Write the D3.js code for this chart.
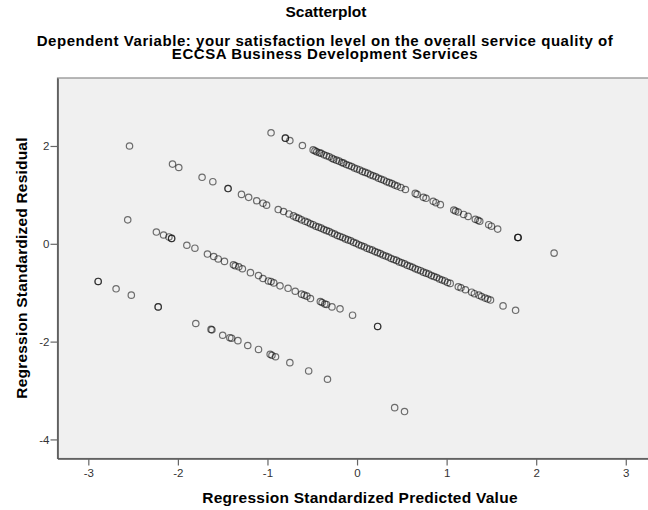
<!DOCTYPE html>
<html>
<head>
<meta charset="utf-8">
<script src="https://cdn.jsdelivr.net/npm/d3@7"></script>
<style>
  body { margin: 0; background: #fff; }
  svg { display: block; font-family: "Liberation Sans", Arial, sans-serif; }
  .tick text { fill: #333; font-size: 11.5px; }
  .tick line { stroke: #666; }
</style>
</head>
<body>
<svg id="chart" width="648" height="510"></svg>
<script>
// === DATA ===
// [predicted, residual] pairs, one array per diagonal band
const band1 = [
  [-0.96, 2.27], [-0.80, 2.16], [-0.80, 2.16], [-0.75, 2.11], [-0.61, 2.01], [-0.49, 1.92],
  [-0.47, 1.90], [-0.45, 1.88], [-0.42, 1.86], [-0.40, 1.85], [-0.37, 1.82], [-0.34, 1.80],
  [-0.31, 1.78], [-0.28, 1.75], [-0.26, 1.73], [-0.23, 1.71], [-0.20, 1.69], [-0.17, 1.66],
  [-0.15, 1.65], [-0.12, 1.62], [-0.09, 1.60], [-0.06, 1.58], [-0.03, 1.55], [0.00, 1.53],
  [0.03, 1.51], [0.06, 1.48], [0.09, 1.46], [0.12, 1.44], [0.15, 1.41], [0.18, 1.39],
  [0.21, 1.37], [0.24, 1.34], [0.27, 1.32], [0.30, 1.30], [0.33, 1.27], [0.36, 1.25],
  [0.39, 1.23], [0.42, 1.20], [0.45, 1.18], [0.49, 1.15], [0.54, 1.11], [0.65, 1.03],
  [0.67, 1.01], [0.74, 0.95], [0.77, 0.93], [0.85, 0.87], [0.88, 0.84], [0.93, 0.80],
  [1.08, 0.69], [1.10, 0.67], [1.13, 0.65], [1.19, 0.60], [1.24, 0.56], [1.32, 0.50],
  [1.35, 0.48], [1.37, 0.46], [1.47, 0.39], [1.50, 0.36], [1.57, 0.30], [1.795, 0.13],
  [1.795, 0.13], [1.80, 0.13], [2.20, -0.19]
];
const band2 = [
  [-2.54, 2.00], [-2.06, 1.63], [-1.99, 1.56], [-1.73, 1.36], [-1.61, 1.27], [-1.44, 1.13],
  [-1.44, 1.13], [-1.29, 1.01], [-1.21, 0.95], [-1.12, 0.88], [-1.05, 0.83], [-1.01, 0.79],
  [-0.88, 0.70], [-0.82, 0.66], [-0.76, 0.61], [-0.71, 0.57], [-0.68, 0.54], [-0.65, 0.52],
  [-0.62, 0.49], [-0.58, 0.46], [-0.55, 0.44], [-0.52, 0.41], [-0.49, 0.39], [-0.46, 0.36],
  [-0.43, 0.34], [-0.40, 0.32], [-0.37, 0.29], [-0.34, 0.27], [-0.31, 0.25], [-0.28, 0.22],
  [-0.25, 0.20], [-0.22, 0.17], [-0.19, 0.15], [-0.16, 0.13], [-0.13, 0.10], [-0.10, 0.08],
  [-0.07, 0.06], [-0.04, 0.03], [-0.01, 0.01], [0.02, -0.02], [0.05, -0.04], [0.08, -0.06],
  [0.11, -0.09], [0.14, -0.11], [0.17, -0.13], [0.20, -0.16], [0.23, -0.18], [0.26, -0.20],
  [0.29, -0.23], [0.32, -0.25], [0.35, -0.27], [0.38, -0.30], [0.41, -0.32], [0.44, -0.34],
  [0.47, -0.37], [0.50, -0.39], [0.53, -0.41], [0.56, -0.44], [0.59, -0.46], [0.62, -0.48],
  [0.65, -0.51], [0.68, -0.53], [0.71, -0.55], [0.74, -0.58], [0.77, -0.60], [0.80, -0.62],
  [0.83, -0.65], [0.86, -0.67], [0.89, -0.69], [0.92, -0.72], [0.95, -0.74], [0.98, -0.76],
  [1.01, -0.79], [1.04, -0.81], [1.13, -0.88], [1.16, -0.90], [1.21, -0.94], [1.28, -0.99],
  [1.31, -1.02], [1.36, -1.05], [1.39, -1.08], [1.43, -1.11], [1.46, -1.13], [1.49, -1.15],
  [1.63, -1.27], [1.77, -1.36]
];
const band3 = [
  [-2.56, 0.49], [-2.24, 0.24], [-2.16, 0.18], [-2.10, 0.14], [-2.07, 0.11], [-2.07, 0.11],
  [-1.90, -0.03], [-1.81, -0.09], [-1.67, -0.21], [-1.60, -0.26], [-1.55, -0.31], [-1.48, -0.36],
  [-1.38, -0.43], [-1.36, -0.45], [-1.32, -0.47], [-1.28, -0.51], [-1.19, -0.59], [-1.10, -0.65],
  [-1.05, -0.71], [-0.99, -0.76], [-0.96, -0.77], [-0.93, -0.80], [-0.86, -0.86], [-0.77, -0.91],
  [-0.69, -0.97], [-0.62, -1.03], [-0.59, -1.05], [-0.56, -1.07], [-0.52, -1.12], [-0.41, -1.18],
  [-0.39, -1.20], [-0.36, -1.23], [-0.34, -1.24], [-0.28, -1.29], [-0.19, -1.33], [-0.05, -1.46],
  [0.23, -1.69], [0.23, -1.69]
];
const band4 = [
  [-2.89, -0.77], [-2.89, -0.77], [-2.69, -0.92], [-2.52, -1.05], [-2.22, -1.29], [-2.22, -1.29],
  [-1.80, -1.63], [-1.63, -1.75], [-1.62, -1.76], [-1.50, -1.87], [-1.42, -1.92], [-1.40, -1.93],
  [-1.33, -1.98], [-1.22, -2.08], [-1.10, -2.16], [-0.97, -2.26], [-0.95, -2.28], [-0.91, -2.31],
  [-0.75, -2.43], [-0.54, -2.60], [-0.33, -2.77], [0.42, -3.35], [0.53, -3.43]
];

const xTicks = [-3, -2, -1, 0, 1, 2, 3];
const yTicks = [-4, -2, 0, 2];

const titleText = "Scatterplot";
const subtitleLines = [
  "Dependent Variable: your satisfaction level on the overall service quality of",
  "ECCSA Business Development Services"
];
const xLabel = "Regression Standardized Predicted Value";
const yLabel = "Regression Standardized Residual";

// === LAYOUT ===
const plot = { left: 57.5, top: 78, right: 662.5, bottom: 458.5 };

const svg = d3.select("#chart");

const x = d3.scaleLinear().domain([-3.344, 3.41]).range([plot.left, plot.right]);
const y = d3.scaleLinear().domain([-4.39, 3.39]).range([plot.bottom, plot.top]);

// background panel
svg.append("rect")
  .attr("x", plot.left).attr("y", plot.top)
  .attr("width", plot.right - plot.left).attr("height", plot.bottom - plot.top)
  .attr("fill", "#f0f0f0")
  .attr("stroke", "#8a8a8a").attr("stroke-width", 1.2);

// === AXES ===
const xAxis = svg.append("g")
  .attr("transform", `translate(0,${plot.bottom})`)
  .call(d3.axisBottom(x).tickValues(xTicks).tickSize(7).tickSizeOuter(0).tickPadding(3).tickFormat(d3.format("d")));
const yAxis = svg.append("g")
  .attr("transform", `translate(${plot.left},0)`)
  .call(d3.axisLeft(y).tickValues(yTicks).tickSize(7).tickSizeOuter(0).tickPadding(1).tickFormat(d3.format("d")));

[xAxis, yAxis].forEach(g => {
  g.select(".domain").attr("stroke", "#555").attr("stroke-width", 1.6);
  g.selectAll(".tick line").attr("stroke-width", 1.2);
  g.selectAll(".tick text").text(d => d < 0 ? "-" + Math.abs(d) : d);
});

// === POINTS ===
const allPoints = [...band1, ...band2, ...band3, ...band4];
svg.append("g")
  .selectAll("circle")
  .data(allPoints)
  .join("circle")
  .attr("cx", d => x(d[0]))
  .attr("cy", d => y(d[1]))
  .attr("r", 3.2)
  .attr("fill", "none")
  .attr("stroke", "#000")
  .attr("stroke-opacity", 0.55)
  .attr("stroke-width", 1.2);

// === TEXT ===
svg.append("text")
  .attr("x", 326).attr("y", 17)
  .attr("text-anchor", "middle")
  .attr("font-weight", "bold").attr("font-size", 15.5)
  .text(titleText);

svg.selectAll(".subtitle")
  .data(subtitleLines)
  .join("text")
  .attr("class", "subtitle")
  .attr("x", 325).attr("y", (d, i) => 46 + i * 13)
  .attr("text-anchor", "middle")
  .attr("font-weight", "bold").attr("font-size", 15)
  .attr("letter-spacing", 0.55)
  .text(d => d);

svg.append("text")
  .attr("x", 360).attr("y", 503)
  .attr("text-anchor", "middle")
  .attr("font-weight", "bold").attr("font-size", 15.5)
  .attr("letter-spacing", 0.25)
  .text(xLabel);

svg.append("text")
  .attr("transform", "translate(27,268) rotate(-90)")
  .attr("text-anchor", "middle")
  .attr("font-weight", "bold").attr("font-size", 15.5)
  .attr("letter-spacing", 0.2)
  .text(yLabel);
</script>
</body>
</html>
